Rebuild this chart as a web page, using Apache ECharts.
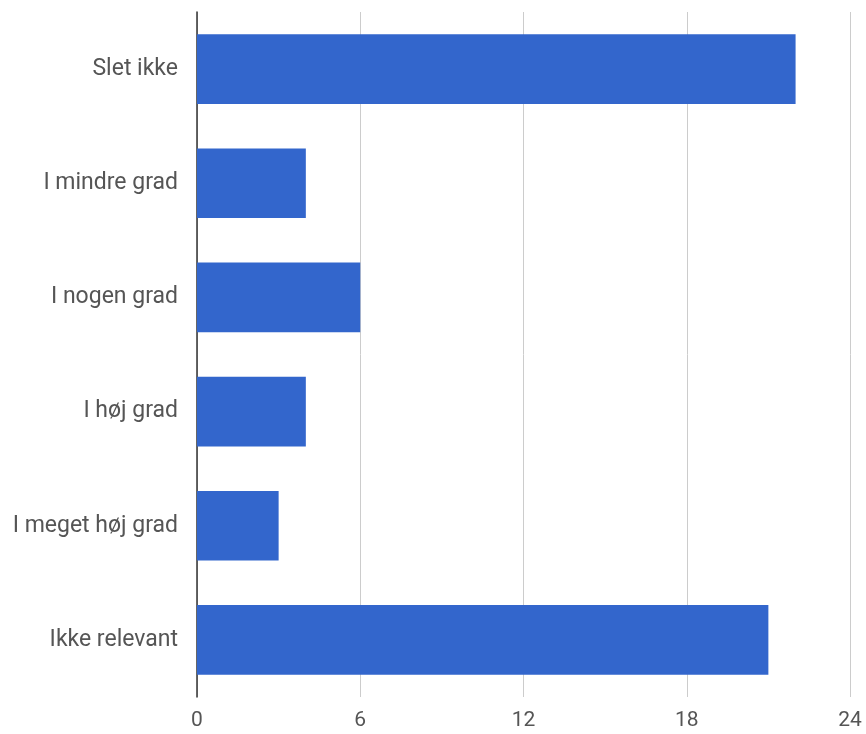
<!DOCTYPE html>
<html><head><meta charset="utf-8">
<script src="https://cdn.jsdelivr.net/npm/echarts@6/dist/echarts.min.js"></script>
<style>html,body{margin:0;padding:0;background:#fff}#c{width:866px;height:734px}</style>
</head><body><div id="c"></div>
<script>
const categories = ["Slet ikke", "I mindre grad", "I nogen grad", "I høj grad", "I meget høj grad", "Ikke relevant"];
const values = [22, 4, 6, 4, 3, 21];
const xTicks = [0, 6, 12, 18, 24];

const chart = echarts.init(document.getElementById('c'));
chart.setOption({
  animation: false,
  grid: {left: 197, right: 16, top: 12, bottom: 37, containLabel: false},
  xAxis: {
    type: 'value', min: xTicks[0], max: xTicks[xTicks.length-1], interval: 6,
    axisLine: {show: false}, axisTick: {show: false},
    splitLine: {lineStyle: {color: '#cccccc', width: 1}},
    axisLabel: {color: '#555', fontFamily: 'Roboto', fontSize: 21, margin: 13}
  },
  yAxis: {
    type: 'category', data: categories, inverse: true,
    axisLine: {show: true, onZero: false, lineStyle: {color: '#333', width: 1.5}},
    axisTick: {show: false},
    axisLabel: {color: '#555', fontFamily: 'Roboto', fontSize: 23, margin: 19}
  },
  series: [{
    type: 'bar', data: values, barWidth: '61%',
    itemStyle: {color: '#3366cc'}
  }]
});
</script></body></html>
